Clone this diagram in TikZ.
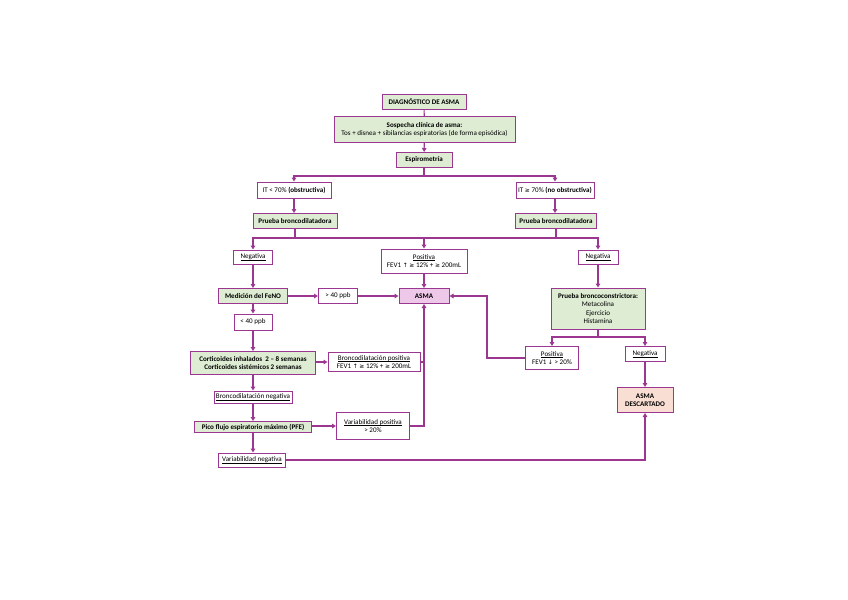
\documentclass[tikz,border=0pt]{standalone}
\usepackage{fontspec}
\setmainfont{Carlito}
\newfontfamily\symfont[Scale=0.85]{DejaVu Sans}
\newcommand{\sym}[1]{{\symfont #1}}
\newlength\ulw
\newcommand{\ulin}[1]{\settowidth{\ulw}{#1}\rlap{\rule[-0.8pt]{\ulw}{0.3pt}}#1}
\usetikzlibrary{arrows.meta}

\definecolor{lineP}{RGB}{155,55,145}
\definecolor{fillG}{RGB}{221,236,211}
\definecolor{fillA}{RGB}{238,200,232}
\definecolor{fillD}{RGB}{249,222,212}

\tikzset{every picture/.style={line width=0.75pt}}
\tikzset{
  box/.style={draw=lineP, line width=0.75pt, fill=white, inner sep=0.8pt, align=center, font=\fontsize{5.3}{6.2}\selectfont},
  gbox/.style={box, fill=fillG, font=\fontsize{5.3}{6.2}\selectfont\bfseries},
  abox/.style={box, fill=fillA, font=\fontsize{5.3}{6.2}\selectfont\bfseries},
  dbox/.style={box, fill=fillD, font=\fontsize{5.3}{6.2}\selectfont\bfseries},
  conn/.style={draw=lineP, line width=0.8pt},
  arr/.style={conn, -{Triangle[length=3pt,width=3.4pt]}}
}

\begin{document}
\begin{tikzpicture}[x=0.75pt,y=0.75pt,yscale=-1,xscale=1]
\useasboundingbox (0,0) rectangle (848,599);

% Top column
\node [gbox, minimum width=63pt, minimum height=11.25pt] (diag) at (424,102) {DIAGNÓSTICO DE ASMA};
\node [gbox, minimum width=135.75pt, minimum height=18.75pt] (sosp) at (424.5,129.5) {Sospecha clínica de asma:\\\mdseries Tos + disnea + sibilancias espiratorias (de forma episódica)};
\node [gbox, minimum width=42pt, minimum height=11.25pt] (espiro) at (424,160) {Espirometría};

% Spirometry result
\node [box, minimum width=55.5pt, minimum height=12pt] (itl) at (294,190) {IT < 70\% \textbf{(obstructiva)}};
\node [box, minimum width=58.5pt, minimum height=12pt] (itr) at (555,190) {IT \sym{≥} 70\% \textbf{(no obstructiva)}};
\node [gbox, minimum width=63pt, minimum height=11.25pt] (pbl) at (295,221) {Prueba broncodilatadora};
\node [gbox, minimum width=60.75pt, minimum height=11.25pt] (pbr) at (556,221) {Prueba broncodilatadora};

% Bronchodilator result
\node [box, minimum width=29.25pt, minimum height=10.5pt] (negl) at (253,257) {\ulin{Negativa}};
\node [box, minimum width=64.5pt, minimum height=18pt] (posc) at (424,261) {\ulin{Positiva}\\FEV1 \sym{↑} \sym{≥} 12\% + \sym{≥} 200mL};
\node [box, minimum width=30pt, minimum height=10.5pt] (negr) at (598,257) {\ulin{Negativa}};

% Middle row
\node [gbox, minimum width=51.75pt, minimum height=11.25pt] (feno) at (253,296) {Medición del FeNO};
\node [box, minimum width=29.25pt, minimum height=11.25pt] (gt40) at (338,296) {> 40 ppb};
\node [abox, minimum width=37.5pt, minimum height=11.25pt] (asma) at (424,296) {ASMA};
\node [gbox, minimum width=70.5pt, minimum height=30.75pt] (pbc) at (598,308.5) {Prueba broncoconstrictora:\\\mdseries Metacolina\\\mdseries Ejercicio\\\mdseries Histamina};

% Left column
\node [box, minimum width=28.5pt, minimum height=12pt] (lt40) at (253,322) {< 40 ppb};
\node [gbox, minimum width=93.75pt, minimum height=17.25pt] (cort) at (253,363) {Corticoides inhalados \ 2 -- 8 semanas\\Corticoides sistémicos 2 semanas};
\node [box, minimum width=69pt, minimum height=14.25pt] (bdpos) at (374,362) {\ulin{Broncodilatación positiva}\\FEV1 \sym{↑} \sym{≥} 12\% + \sym{≥} 200mL};
\node [box, minimum width=58.5pt, minimum height=9pt] (bdneg) at (253,397) {\ulin{Broncodilatación negativa}};
\node [gbox, minimum width=87.75pt, minimum height=8.25pt] (pfe) at (253,427) {Pico flujo espiratorio máximo (PFE)};
\node [box, minimum width=54.75pt, minimum height=20.25pt] (varpos) at (373,426) {\ulin{Variabilidad positiva}\\> 20\%};
\node [box, minimum width=50pt, minimum height=10.5pt] (varneg) at (252,460) {\ulin{Variabilidad negativa}};

% Right column
\node [box, minimum width=39.75pt, minimum height=17.25pt] (posr) at (552,358) {\ulin{Positiva}\\FEV1 \sym{↓} > 20\%};
\node [box, minimum width=30pt, minimum height=11.25pt] (negr2) at (645,354) {\ulin{Negativa}};
\node [dbox, minimum width=42pt, minimum height=18.75pt] (desc) at (645,400) {ASMA\\DESCARTADO};

% Split points
\coordinate (s1) at (424,176);
\coordinate (s2) at (424,238);
\coordinate (s4) at (598,337);
\coordinate (c5) at (487,358);

% Connectors
\draw [conn] (diag) -- (sosp);
\draw [arr] (sosp) -- (espiro);
\draw [conn] (espiro) -- (s1);
\draw [arr] (s1) -| (itl);
\draw [arr] (s1) -| (itr);
\draw [arr] (itl) -- (itl |- pbl.north);
\draw [arr] (itr) -- (itr |- pbr.north);
\draw [conn] (pbl) -- (pbl |- s2);
\draw [conn] (pbr) -- (pbr |- s2);
\draw [arr] (s2) -| (negl);
\draw [arr] (s2) -| (negr);
\draw [arr] (s2) -- (posc);
\draw [arr] (negl) -- (feno);
\draw [arr] (feno) -- (gt40);
\draw [arr] (gt40) -- (asma);
\draw [arr] (posc) -- (asma);
\draw [arr] (feno) -- (lt40);
\draw [arr] (lt40) -- (cort);
\draw [arr] (cort.east |- bdpos) -- (bdpos);
\draw [arr] (cort) -- (bdneg);
\draw [arr] (bdneg) -- (pfe);
\draw [arr] (pfe.east |- varpos) -- (varpos);
\draw [arr] (pfe) -- (pfe |- varneg.north);
\draw [conn] (bdpos.east) -- (bdpos.east -| asma);
\draw [arr] (varpos.east) -| (asma.south);
\draw [arr] (negr) -- (pbc);
\draw [conn] (pbc) -- (s4);
\draw [arr] (s4) -| (posr);
\draw [arr] (s4) -| (negr2);
\draw [arr] (posr.west) -- (c5) |- (asma.east);
\draw [arr] (negr2) -- (desc);
\draw [arr] (varneg.east) -| (desc.south);

\end{tikzpicture}
\end{document}
